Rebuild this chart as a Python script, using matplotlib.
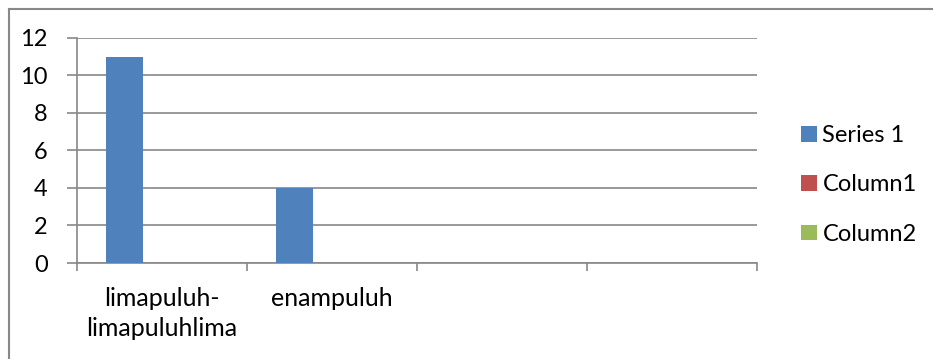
import matplotlib.pyplot as plt
import numpy as np
from matplotlib.lines import Line2D
from matplotlib.patches import Patch

categories = ["limapuluh-\nlimapuluhlima", "enampuluh", "", ""]
series1 = [11, 4, 0, 0]
column1 = [0, 0, 0, 0]
column2 = [0, 0, 0, 0]
names = ["Series 1", "Column1", "Column2"]
colors = ["#4F81BD", "#C0504D", "#9BBB59"]

plt.rcParams['font.family'] = ['Lato', 'DejaVu Sans']

fig = plt.figure(figsize=(9.33, 3.59), dpi=100)
ax = fig.add_axes([0.0825, 0.2674, 0.7289, 0.6268])

x = np.arange(len(categories))
w = 0.22
for i, vals in enumerate([series1, column1, column2]):
    ax.bar(x + (i - 1) * w, vals, width=w, color=colors[i], zorder=3)

ax.set_xlim(-0.5, len(categories) - 0.5)
ax.set_ylim(0, 12)
ax.set_yticks(range(0, 13, 2))
ax.yaxis.grid(True, color="#888888", linewidth=1.2, zorder=0)

# category boundaries as tick marks
ax.set_xticks(np.arange(-0.5, len(categories), 1.0))
ax.set_xticklabels([])
ax.set_xticks(x, minor=True)
ax.set_xticklabels(categories, minor=True, fontsize=18, linespacing=1.4)
ax.tick_params(axis="x", which="minor", length=0, pad=17)
ax.tick_params(axis="x", which="major", length=6, width=1.2, color="#888888", direction="out")
ax.tick_params(axis="y", length=7, width=1.2, color="#888888", labelsize=17, pad=14)

for side in ["top", "right"]:
    ax.spines[side].set_visible(False)
ax.spines["left"].set_color("#888888")
ax.spines["left"].set_linewidth(1.2)
ax.spines["bottom"].set_color("#888888")
ax.spines["bottom"].set_linewidth(1.2)

handles = [Patch(facecolor=c) for c in colors]
fig.legend(handles, names, loc="center left", bbox_to_anchor=(0.836, 0.485),
           frameon=False, fontsize=17, handlelength=0.65, handleheight=0.65,
           handletextpad=0.25, labelspacing=1.2)

# outer chart border (left and top edges)
fig.add_artist(Line2D([8.5 / 933, 8.5 / 933], [0, 1 - 8.5 / 359], color="#888888", linewidth=1.5))
fig.add_artist(Line2D([8.5 / 933, 1], [1 - 8.5 / 359, 1 - 8.5 / 359], color="#888888", linewidth=1.5))

fig.savefig("out.png", dpi=100)
